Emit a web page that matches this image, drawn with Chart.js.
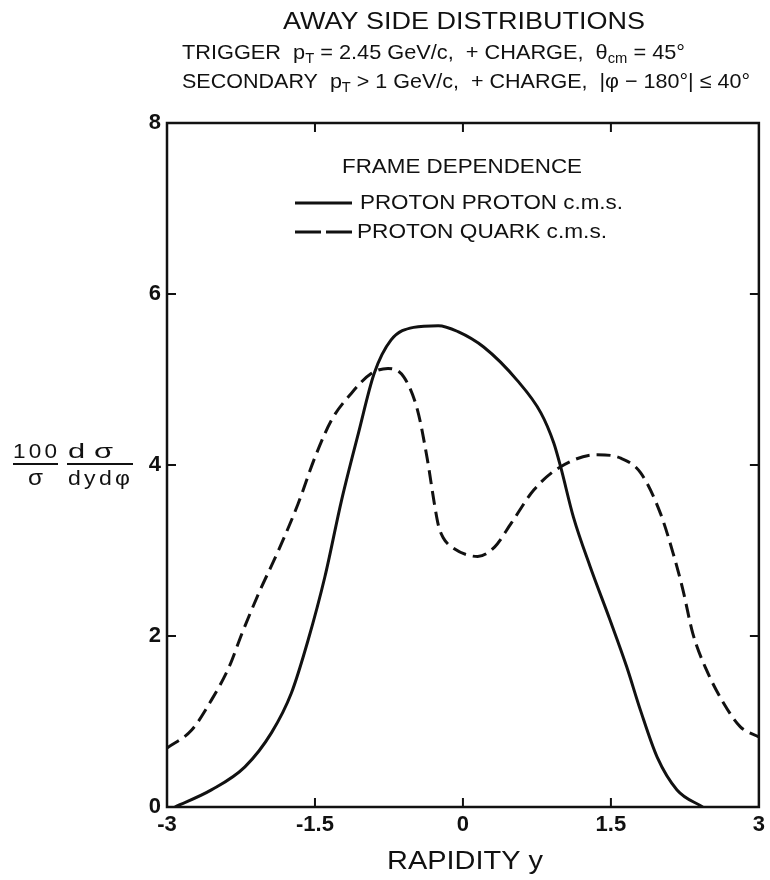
<!DOCTYPE html>
<html>
<head>
<meta charset="utf-8">
<script src="https://cdn.jsdelivr.net/npm/chart.js@4.4.1/dist/chart.umd.min.js"></script>
<style>
  html, body { margin: 0; padding: 0; background: #fff; }
  #wrap { width: 770px; height: 880px; position: relative; }
</style>
</head>
<body>
<div id="wrap"><canvas id="away-side"></canvas></div>
<script>
// proton-proton c.m.s. (solid)
const ppRapidity = [-2.92, -2.55, -2.21, -1.94, -1.74, -1.57, -1.40, -1.23, -1.06, -0.90, -0.73, -0.50, -0.25, -0.05, 0.21, 0.55, 0.79, 0.92, 0.99, 1.12, 1.29, 1.49, 1.66, 1.80, 1.97, 2.17, 2.43];
const ppValues = [0, 0.2, 0.47, 0.87, 1.33, 1.95, 2.69, 3.59, 4.37, 5.07, 5.46, 5.61, 5.63, 5.56, 5.38, 4.99, 4.61, 4.26, 3.98, 3.39, 2.81, 2.19, 1.64, 1.13, 0.58, 0.2, 0];

// proton-quark c.m.s. (dashed)
const pqRapidity = [-3.0, -2.75, -2.55, -2.37, -2.24, -2.07, -1.87, -1.67, -1.50, -1.33, -1.13, -0.93, -0.76, -0.60, -0.46, -0.36, -0.29, -0.25, -0.20, -0.10, 0.15, 0.32, 0.49, 0.72, 0.99, 1.36, 1.60, 1.80, 2.00, 2.13, 2.23, 2.33, 2.47, 2.64, 2.81, 3.0];
const pqValues = [0.69, 0.90, 1.25, 1.64, 2.03, 2.50, 3.0, 3.55, 4.09, 4.53, 4.84, 5.07, 5.13, 5.03, 4.64, 4.06, 3.55, 3.30, 3.15, 3.03, 2.93, 3.04, 3.32, 3.71, 3.98, 4.12, 4.08, 3.91, 3.44, 2.97, 2.54, 2.03, 1.60, 1.22, 0.94, 0.82];

const xTicks = [-3, -1.5, 0, 1.5, 3];
const yTicks = [0, 2, 4, 6, 8];
const seriesLabels = ['PROTON PROTON c.m.s.', 'PROTON QUARK c.m.s.'];

const FONT = '"Liberation Sans", Arial, sans-serif';
const INK = '#111';

const toPoints = (xs, ys) => xs.map((x, i) => ({ x, y: ys[i] }));

// draws [text, isSub] segments from x, squeezed/stretched to the given width
function fitText(ctx, segs, x, y, size, width, spacing = 0) {
  if (typeof segs === 'string') segs = [[segs, false]];
  const fontFor = sub => `${sub ? size * 0.68 : size}px ${FONT}`;
  ctx.save();
  ctx.letterSpacing = `${spacing}px`;
  let natural = 0;
  segs.forEach(([t, sub]) => { ctx.font = fontFor(sub); natural += ctx.measureText(t).width; });
  natural -= spacing; // no gap after the last glyph
  ctx.translate(x, y);
  ctx.scale(width / natural, 1);
  ctx.textAlign = 'left';
  ctx.textBaseline = 'middle';
  let cx = 0;
  segs.forEach(([t, sub]) => {
    ctx.font = fontFor(sub);
    ctx.fillText(t, cx, sub ? size * 0.3 : 0);
    cx += ctx.measureText(t).width;
  });
  ctx.restore();
}

const decor = {
  id: 'decor',
  afterDraw(chart) {
    const { ctx, chartArea: a, scales: { x, y } } = chart;
    ctx.save();
    ctx.strokeStyle = INK;
    ctx.fillStyle = INK;

    // frame
    ctx.lineWidth = 2.5;
    ctx.strokeRect(a.left, a.top, a.right - a.left, a.bottom - a.top);

    // inward ticks on all four sides
    const tl = 9;
    ctx.lineWidth = 2;
    ctx.beginPath();
    xTicks.slice(1, -1).forEach(v => {
      const px = x.getPixelForValue(v);
      ctx.moveTo(px, a.bottom); ctx.lineTo(px, a.bottom - tl);
      ctx.moveTo(px, a.top); ctx.lineTo(px, a.top + tl);
    });
    yTicks.slice(1, -1).forEach(v => {
      const py = y.getPixelForValue(v);
      ctx.moveTo(a.left, py); ctx.lineTo(a.left + tl, py);
      ctx.moveTo(a.right, py); ctx.lineTo(a.right - tl, py);
    });
    ctx.stroke();

    // headings
    fitText(ctx, 'AWAY SIDE DISTRIBUTIONS', 283, 23, 23, 362);
    fitText(ctx, [['TRIGGER  p', false], ['T', true], [' = 2.45 GeV/c,  + CHARGE,  \u03B8', false], ['cm', true], [' = 45\u00B0', false]], 182, 53, 21, 503);
    fitText(ctx, [['SECONDARY  p', false], ['T', true], [' > 1 GeV/c,  + CHARGE,  |\u03C6 \u2212 180\u00B0| \u2264 40\u00B0', false]], 182, 82, 21, 568);

    // y-axis label: 100/sigma  dsigma/dy dphi
    fitText(ctx, '100', 13, 452, 21, 44, 3);
    fitText(ctx, '\u03C3', 28, 479, 22, 15);
    fitText(ctx, 'd\u03C3', 68, 452, 21, 45, 6);
    fitText(ctx, 'dyd\u03C6', 68, 479, 21, 62, 3);
    ctx.lineWidth = 2;
    ctx.beginPath();
    ctx.moveTo(13, 464); ctx.lineTo(58, 464);
    ctx.moveTo(67, 464); ctx.lineTo(133, 464);
    ctx.stroke();

    // x-axis title
    fitText(ctx, 'RAPIDITY y', 387, 862, 26, 156);

    // legend
    fitText(ctx, 'FRAME DEPENDENCE', 342, 167, 21, 240);
    ctx.lineWidth = 3;
    [[203, 360, 263], [232, 357, 250]].forEach(([ly, tx, tw], i) => {
      ctx.setLineDash(i === 0 ? [] : [26, 5]);
      ctx.beginPath();
      ctx.moveTo(295, ly); ctx.lineTo(352, ly);
      ctx.stroke();
      ctx.setLineDash([]);
      fitText(ctx, seriesLabels[i], tx, ly, 21, tw);
    });
    ctx.restore();
  },
};

new Chart('away-side', {
  type: 'scatter',
  data: {
    datasets: [
      {
        label: seriesLabels[0],
        data: toPoints(ppRapidity, ppValues),
        showLine: true,
        borderColor: INK,
        borderWidth: 3,
        pointRadius: 0,
        cubicInterpolationMode: 'monotone',
      },
      {
        label: seriesLabels[1],
        data: toPoints(pqRapidity, pqValues),
        showLine: true,
        borderColor: INK,
        borderWidth: 3,
        borderDash: [14, 7],
        pointRadius: 0,
        cubicInterpolationMode: 'monotone',
      },
    ],
  },
  options: {
    responsive: true,
    maintainAspectRatio: false,
    animation: false,
    layout: { padding: { left: 127, right: 10, top: 123, bottom: 0 } },
    plugins: { legend: { display: false }, tooltip: { enabled: false } },
    scales: {
      x: {
        type: 'linear',
        min: -3,
        max: 3,
        afterFit: s => { s.height = 73; },
        afterBuildTicks: s => { s.ticks = xTicks.map(value => ({ value })); },
        grid: { display: false, drawTicks: false },
        border: { display: false },
        ticks: { color: INK, padding: 5, font: { family: FONT, size: 22, weight: 'bold' }, callback: v => String(v) },
      },
      y: {
        type: 'linear',
        min: 0,
        max: 8,
        afterFit: s => { s.width = 40; },
        afterBuildTicks: s => { s.ticks = yTicks.map(value => ({ value })); },
        grid: { display: false, drawTicks: false },
        border: { display: false },
        ticks: { color: INK, padding: 6, font: { family: FONT, size: 22, weight: 'bold' } },
      },
    },
  },
  plugins: [decor],
});
</script>
</body>
</html>
